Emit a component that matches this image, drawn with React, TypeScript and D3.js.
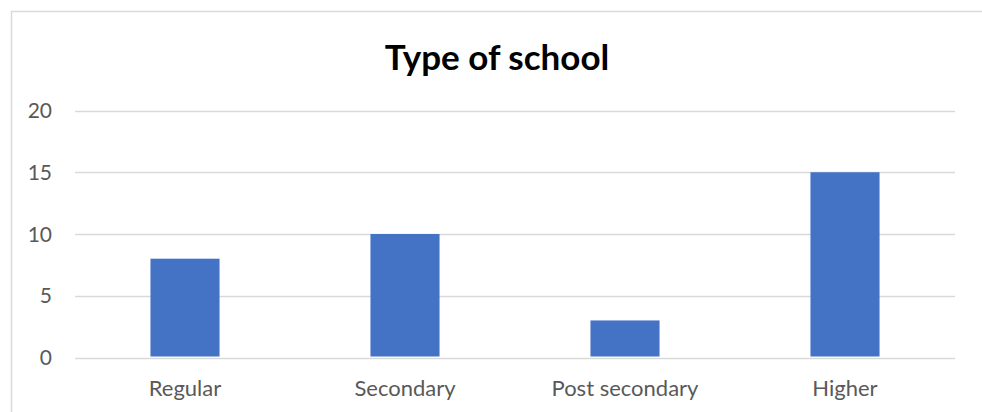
import React from "react";
import * as d3 from "d3";

const categories = ["Regular", "Secondary", "Post secondary", "Higher"];
const counts = [8, 10, 3, 15];
const yTicks = [0, 5, 10, 15, 20];
const title = "Type of school";

const W = 982;
const H = 412;
const plot = { left: 75, right: 955, top: 110.5, bottom: 357.5 };
const FONT = "Lato, 'Noto Sans', sans-serif";
const TEXT = "#595959";
const GRID = "#D9D9D9";
const BAR = "#4472C4";

export default function App() {
  const x = d3
    .scaleBand<string>()
    .domain(categories)
    .range([plot.left, plot.right])
    .paddingInner(0.686)
    .paddingOuter(0.343);
  const y = d3.scaleLinear().domain([0, 20]).range([plot.bottom, plot.top]);

  return (
    <svg
      width={W}
      height={H}
      style={{ position: "absolute", left: 0, top: 0, background: "#fff" }}
    >
      <rect x={0} y={0} width={W} height={H} fill="#fff" />
      {/* chart frame */}
      <rect
        x={11.5}
        y={11.5}
        width={W + 10}
        height={H + 10}
        fill="none"
        stroke={GRID}
        strokeWidth={1.5}
      />
      <text
        x={497}
        y={70}
        textAnchor="middle"
        fontFamily={FONT}
        fontWeight={700}
        fontSize={35}
        fill="#000"
      >
        {title}
      </text>
      {yTicks.map((t) => (
        <g key={t}>
          <line
            x1={plot.left}
            x2={plot.right}
            y1={Math.round(y(t)) + 0.5}
            y2={Math.round(y(t)) + 0.5}
            stroke={GRID}
            strokeWidth={1.3}
          />
          <text
            x={52}
            y={y(t)}
            dy="0.36em"
            textAnchor="end"
            fontFamily={FONT}
            fontSize={21}
            fill={TEXT}
          >
            {t}
          </text>
        </g>
      ))}
      {categories.map((c, i) => (
        <g key={c}>
          <rect
            x={x(c)}
            y={y(counts[i])}
            width={x.bandwidth()}
            height={y(0) - y(counts[i]) - 1}
            fill={BAR}
          />
          <text
            x={(x(c) ?? 0) + x.bandwidth() / 2}
            y={396}
            textAnchor="middle"
            fontFamily={FONT}
            fontSize={22}
            fill={TEXT}
          >
            {c}
          </text>
        </g>
      ))}
    </svg>
  );
}
